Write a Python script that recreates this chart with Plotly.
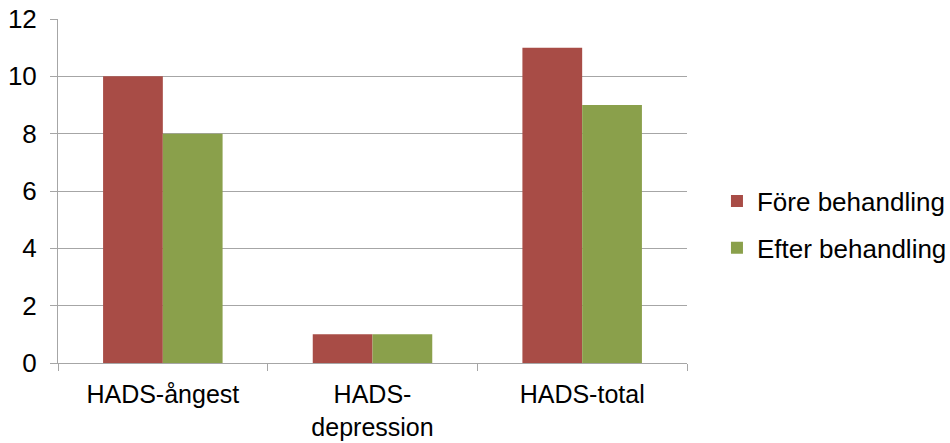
import plotly.graph_objects as go

categories = ["HADS-ångest", "HADS-<br>depression", "HADS-total"]
fore_values = [10, 1, 11]
efter_values = [8, 1, 9]
series_names = ["Före behandling", "Efter behandling"]
y_ticks = [0, 2, 4, 6, 8, 10, 12]

RED = "#A84C46"
GREEN = "#8AA04B"
GRID = "#A6A6A6"
FONT = "Liberation Sans, Arial, Helvetica, sans-serif"

fig = go.Figure()
fig.add_trace(go.Bar(x=categories, y=fore_values, name=series_names[0],
                     marker=dict(color=RED, line=dict(width=0)),
                     legendgroup="a"))
fig.add_trace(go.Bar(x=categories, y=efter_values, name=series_names[1],
                     marker=dict(color=GREEN, line=dict(width=0)),
                     legendgroup="b"))

fig.update_layout(
    width=950, height=443,
    margin=dict(l=58, r=263, t=19, b=80),
    paper_bgcolor="white", plot_bgcolor="white",
    barmode="group", bargap=0.43, bargroupgap=0,
    font=dict(family=FONT, size=26, color="black"),
    showlegend=True,
    legend=dict(xref="container", yref="container",
                x=0.7547, xanchor="left", y=0.4932, yanchor="middle",
                font=dict(size=26), traceorder="grouped",
                tracegroupgap=10, bgcolor="rgba(0,0,0,0)"),
)
fig.update_yaxes(range=[0, 12], tickvals=y_ticks, showgrid=True,
                 gridcolor=GRID, gridwidth=1, showline=True, linecolor=GRID,
                 linewidth=1, ticks="outside", ticklen=7, tickcolor=GRID,
                 zeroline=False, ticklabelstandoff=8, automargin=False)
fig.update_xaxes(showline=True, linecolor=GRID, linewidth=1,
                 ticks="outside", ticklen=7, tickcolor=GRID,
                 tickson="boundaries", showgrid=False,
                 tickfont=dict(size=25),
                 ticklabelstandoff=9, automargin=False)

fig.write_html("out.html")
